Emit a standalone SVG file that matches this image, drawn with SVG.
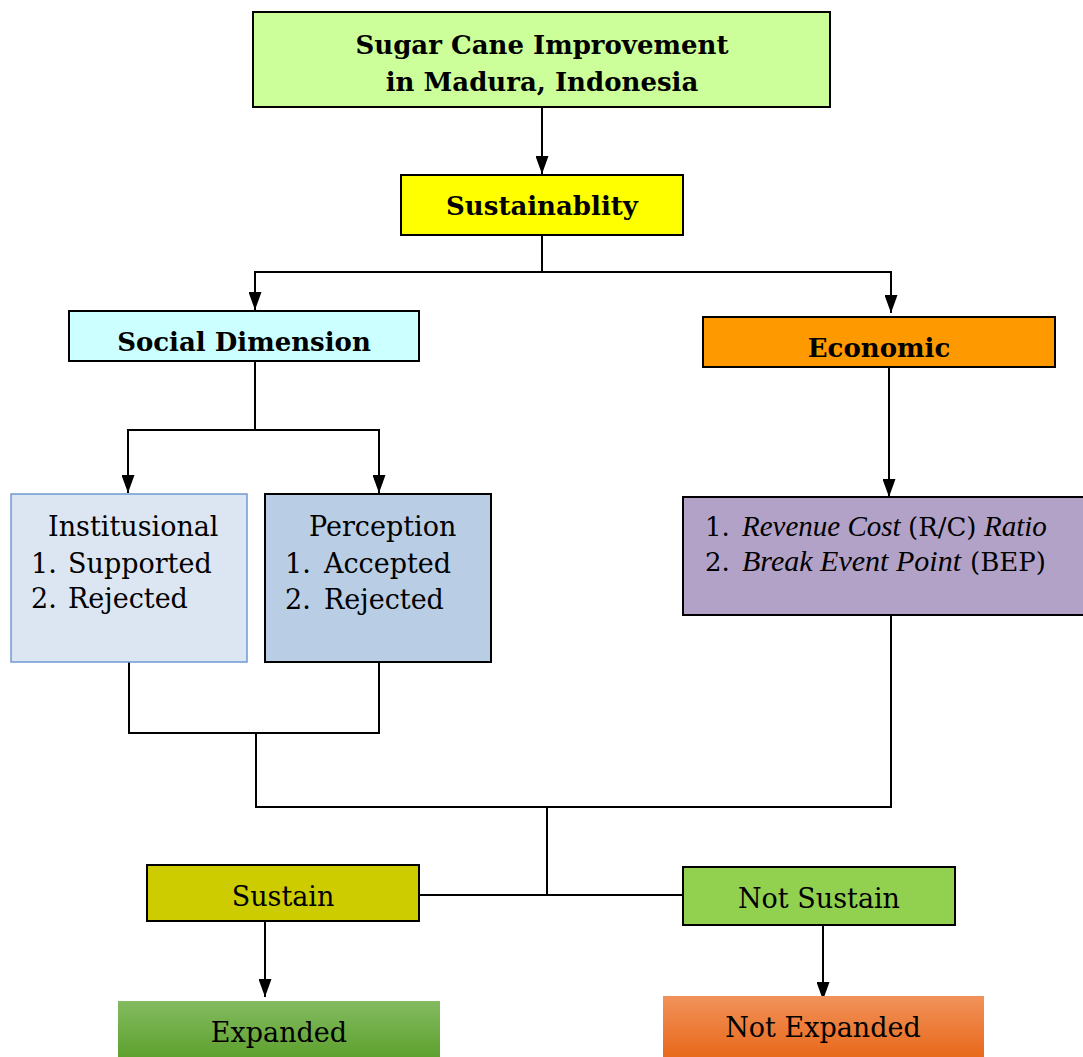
<svg xmlns="http://www.w3.org/2000/svg" width="1083" height="1057" viewBox="0 0 1083 1057">
<style>
.box{stroke:#000;stroke-width:2}
.t{font-family:"DejaVu Serif","Liberation Serif",serif;font-size:27px;fill:#000}
.b{font-weight:bold;font-size:26px}
.c{text-anchor:middle}
.i{font-family:"Liberation Serif","DejaVu Serif",serif;font-style:italic;font-size:29px}
.e{font-size:26px}
.ln{fill:none;stroke:#000;stroke-width:2}
</style>
<defs>
<marker id="ah" markerUnits="userSpaceOnUse" markerWidth="18" markerHeight="13" refX="18" refY="6.5" orient="auto" viewBox="0 0 18 13">
<path d="M0,0 L18,6.5 L0,13 Z" fill="#000"/>
</marker>
<linearGradient id="gG" x1="0" y1="0" x2="0" y2="1">
<stop offset="0" stop-color="#83bb60"/>
<stop offset="1" stop-color="#5ea12f"/>
</linearGradient>
<linearGradient id="gO" x1="0" y1="0" x2="0" y2="1">
<stop offset="0" stop-color="#f1925a"/>
<stop offset="1" stop-color="#e8691b"/>
</linearGradient>
</defs>
<g id="connectors">
<line class="ln" x1="542" y1="107" x2="542" y2="174" marker-end="url(#ah)"/>
<path class="ln" d="M542,235 V273"/>
<path class="ln" d="M255,272 H891"/>
<line class="ln" x1="255" y1="271" x2="255" y2="310" marker-end="url(#ah)"/>
<line class="ln" x1="891" y1="271" x2="891" y2="313" marker-end="url(#ah)"/>
<path class="ln" d="M255,361 V430"/>
<path class="ln" d="M128,430 H379"/>
<line class="ln" x1="128" y1="429" x2="128" y2="493" marker-end="url(#ah)"/>
<line class="ln" x1="379" y1="429" x2="379" y2="493" marker-end="url(#ah)"/>
<line class="ln" x1="889" y1="367" x2="889" y2="497" marker-end="url(#ah)"/>
<path class="ln" d="M129,662 V733 H379 V662"/>
<path class="ln" d="M256,733 V807 H891 V615"/>
<path class="ln" d="M547,807 V896"/>
<path class="ln" d="M419,895 H683"/>
<line class="ln" x1="265" y1="921" x2="265" y2="997" marker-end="url(#ah)"/>
<line class="ln" x1="823" y1="925" x2="823" y2="1000" marker-end="url(#ah)"/>
</g>
<g id="n-top">
<rect class="box" x="253" y="12" width="577" height="95" fill="#ccff99"/>
<text class="t b c" x="542" y="54">Sugar Cane Improvement</text>
<text class="t b c" x="542" y="91">in Madura, Indonesia</text>
</g>
<g id="n-sust">
<rect class="box" x="401" y="175" width="282" height="60" fill="#ffff00"/>
<text class="t b c" x="542" y="215">Sustainablity</text>
</g>
<g id="n-social">
<rect class="box" x="69" y="311" width="350" height="50" fill="#ccffff"/>
<text class="t b c" x="244" y="351">Social Dimension</text>
</g>
<g id="n-econ">
<rect class="box" x="703" y="317" width="352" height="50" fill="#ff9900"/>
<text class="t b c" x="879" y="357">Economic</text>
</g>
<g id="n-inst">
<rect x="11" y="494" width="236" height="168" fill="#dce6f2" stroke="#6d9bd1" stroke-width="1.5"/>
<text class="t" x="48" y="536">Institusional</text>
<text class="t" y="573"><tspan x="31">1.</tspan><tspan x="68">Supported</tspan></text>
<text class="t" y="608"><tspan x="31">2.</tspan><tspan x="68">Rejected</tspan></text>
</g>
<g id="n-perc">
<rect class="box" x="265" y="494" width="226" height="168" fill="#b9cde5"/>
<text class="t" x="309" y="536">Perception</text>
<text class="t" y="573"><tspan x="285">1.</tspan><tspan x="324">Accepted</tspan></text>
<text class="t" y="609"><tspan x="285">2.</tspan><tspan x="324">Rejected</tspan></text>
</g>
<g id="n-econlist">
<rect class="box" x="683" y="497" width="401" height="118" fill="#b3a2c7"/>
<text class="t e" x="705" y="536">1.</text>
<text class="t i" x="742" y="536">Revenue Cost</text>
<text class="t e" x="908" y="536">(R/C)</text>
<text class="t i" x="984" y="536">Ratio</text>
<text class="t e" x="705" y="571">2.</text>
<text class="t i" x="742" y="571" textLength="219" lengthAdjust="spacingAndGlyphs">Break Event Point</text>
<text class="t e" x="970" y="571">(BEP)</text>
</g>
<g id="n-sustain">
<rect class="box" x="147" y="865" width="272" height="56" fill="#cccc00"/>
<text class="t c" x="283" y="906">Sustain</text>
</g>
<g id="n-notsustain">
<rect class="box" x="683" y="867" width="272" height="58" fill="#92d050"/>
<text class="t c" x="819" y="908">Not Sustain</text>
</g>
<g id="n-expanded">
<rect x="118" y="1001" width="322" height="56" fill="url(#gG)"/>
<text class="t c" x="279" y="1042" font-size="28">Expanded</text>
</g>
<g id="n-notexpanded">
<rect x="663" y="996" width="321" height="61" fill="url(#gO)"/>
<text class="t c" x="823" y="1037" font-size="28">Not Expanded</text>
</g>
</svg>
